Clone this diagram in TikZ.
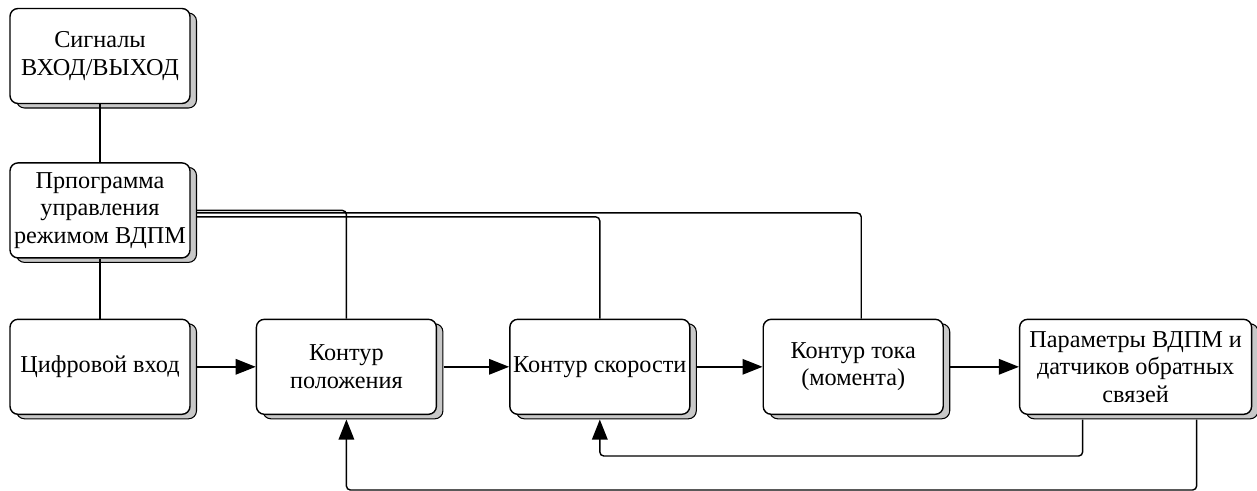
\documentclass[tikz,border=0pt]{standalone}
\usepackage{fontspec}
\setmainfont{Liberation Serif}
\usetikzlibrary{arrows.meta, positioning, shadows}
\definecolor{shade}{HTML}{C8C8C8}

\begin{document}
\begin{tikzpicture}[
    every node/.style={font=\fontsize{13.8}{15.6}\selectfont},
    node distance=1.44cm,
    block/.style={
        rectangle,
        rounded corners=0.16cm,
        draw=black,
        fill=white,
        line width=0.8pt,
        align=center,
        inner xsep=0pt,
        minimum width=3.6cm,
        minimum height=1.9cm,
        drop shadow={shadow xshift=0.13cm, shadow yshift=-0.09cm,
            opacity=1, fill=shade, draw=black, line width=0.6pt}
    },
    link/.style={line width=0.8pt, rounded corners=0.08cm},
    arrow/.style={link, -{Triangle[length=0.4cm, width=0.31cm]}}
]
\useasboundingbox (0,0) rectangle (25.14,-9.82);

\node[block] (sig) at (2.0,-1.12) {Сигналы\\ВХОД/ВЫХОД};
\node[block, below=1.16cm of sig] (prog) {Прпограмма\\управления\\режимом ВДПМ};
\node[block, below=1.2cm of prog] (dig) {Цифровой вход};
\node[block, right=1.3cm of dig] (pos) {Контур\\положения};
\node[block, right=of pos] (spd) {Контур скорости};
\node[block, right=of spd] (cur) {Контур тока\\(момента)};
\node[block, right=1.5cm of cur, minimum width=4.64cm] (par) {Параметры ВДПМ и\\датчиков обратных\\связей};

% LINKS
\draw[link] (sig) -- (prog);
\draw[link] (prog) -- (dig);
\draw[link] ([xshift=0.13cm]prog.east) -| (pos.north);
\draw[link] ([xshift=0.13cm, yshift=-0.05cm]prog.east) -| ([xshift=0.16cm]cur.north);
\draw[link] ([xshift=0.13cm, yshift=-0.13cm]prog.east) -| (spd.north);

% ARROWS
\draw[arrow] ([xshift=0.13cm]dig.east) -- (pos.west);
\draw[arrow] ([xshift=0.13cm]pos.east) -- (spd.west);
\draw[arrow] ([xshift=0.13cm]spd.east) -- (cur.west);
\draw[arrow] ([xshift=0.13cm]cur.east) -- (par.west);

% FEEDBACK
\draw[arrow] ([xshift=-1.06cm, yshift=-0.09cm]par.south) -- ++(0,-0.73) -| ([yshift=-0.09cm]spd.south);
\draw[arrow] ([xshift=1.22cm, yshift=-0.09cm]par.south) -- ++(0,-1.41) -| ([yshift=-0.09cm]pos.south);

\end{tikzpicture}
\end{document}
